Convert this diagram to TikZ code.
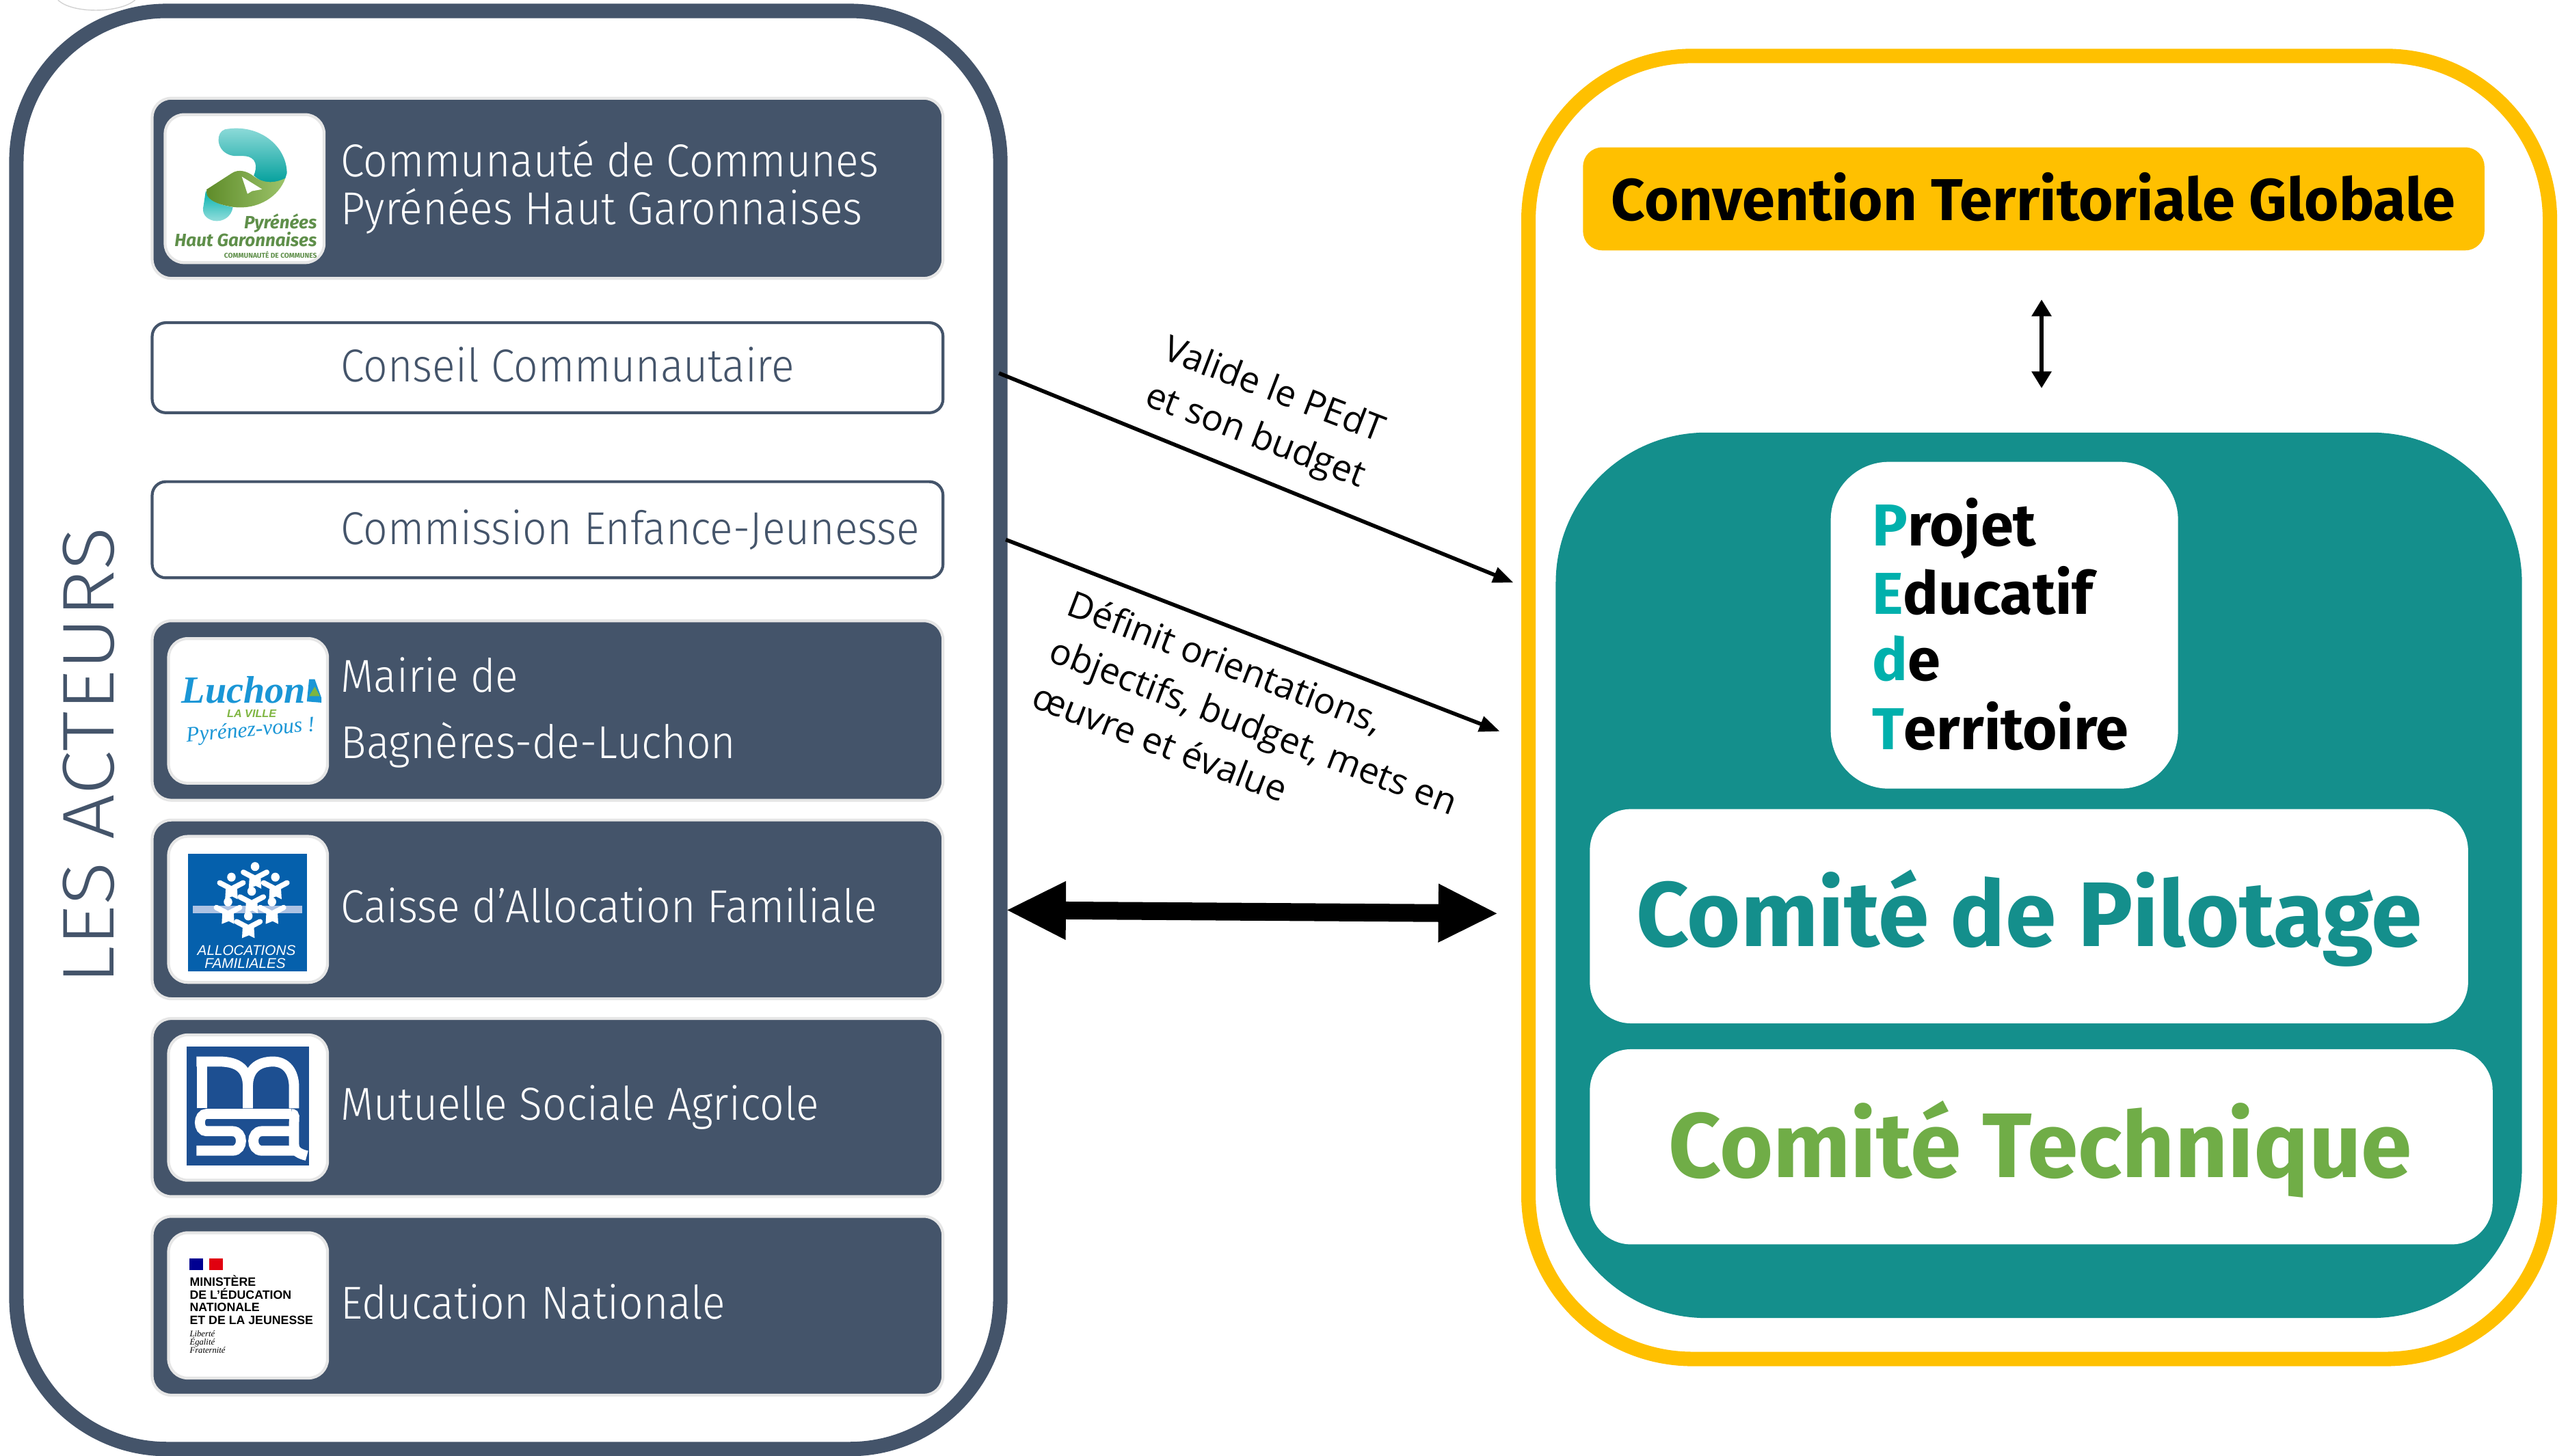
\documentclass[tikz,border=0pt]{standalone}
\usepackage{fontspec}
\usetikzlibrary{arrows.meta,shapes.geometric}
\setmainfont{Fira Sans}
\newfontfamily\uif{Fira Sans Light}[FakeStretch=0.925]
\newfontfamily\uifw{Fira Sans Light}[FakeStretch=1.1]
\newfontfamily\opf{Open Sans}
\newfontfamily\lib{Liberation Sans}
\newfontfamily\ser{Liberation Serif}
\definecolor{slate}{HTML}{44546A}
\definecolor{gold}{HTML}{FFC000}
\definecolor{teal1}{HTML}{148F8C}
\definecolor{teal2}{HTML}{00B0AC}
\definecolor{lgreen}{HTML}{70AD47}
\definecolor{lgray}{HTML}{E6E6E6}
\definecolor{logogreen}{HTML}{5F8F4A}
\definecolor{dgreen}{HTML}{5F8C2A}
\definecolor{pgreen}{HTML}{9CC36A}
\definecolor{luchblue}{HTML}{1A96D6}
\definecolor{cafblue}{HTML}{0560AC}
\definecolor{cafband}{HTML}{ADC2E3}
\definecolor{msablue}{HTML}{1D4F91}
\definecolor{frblue}{HTML}{000091}
\definecolor{frred}{HTML}{E1000F}
\newcommand\fs[1]{\fontsize{#1}{#1}\selectfont}
\newcommand\pxbox[6]{\pgfmathsetmacro\cxa{(#3+#5)/2}\pgfmathsetmacro\cya{(#4+#6)/2}\pgfmathsetmacro\wa{(#5-#3)*0.00998}\pgfmathsetmacro\ha{(#6-#4)*0.00998}\node[#2,minimum width=\wa cm,minimum height=\ha cm] (#1) at (\cxa,\cya) {};}
\newcommand\cafp[2]{\begin{scope}[shift={(#1,#2)}]
\fill[white] (0,-32) circle (19);
\draw[white,line width=2.2pt,line cap=round] (-52,-8)--(0,18)--(52,-8);
\fill[white] (-25,12)--(25,12)--(28,62)--(3,50)--(-28,62)--cycle;
\end{scope}}
\tikzset{
 darkbox/.style={rectangle,rounded corners=0.28cm,fill=slate,draw=lgray,line width=1.2pt,inner sep=0},
 linebox/.style={rectangle,rounded corners=0.2cm,fill=white,draw=slate,line width=1.2pt,inner sep=0},
 logobox/.style={rectangle,rounded corners=0.28cm,fill=white,draw=lgray,line width=1.2pt,inner sep=0},
 wbox/.style={rectangle,fill=white,inner sep=0},
 uitext/.style={anchor=west,inner sep=0,font=\uif\fs{19.2},text=white},
 uitextd/.style={anchor=west,inner sep=0,font=\uif\fs{19.2},text=slate},
 arlabel/.style={inner sep=0,font=\opf\fontsize{15}{20.5}\selectfont,align=left,text=black},
 thinarrow/.style={-{Triangle[length=8.5pt,width=6.5pt]},line width=1.6pt,black},
 bigarrow/.style={{Triangle[length=25pt,width=22.5pt]}-{Triangle[length=25pt,width=22.5pt]},line width=7.4pt,black},
 smallarrow/.style={{Triangle[length=7pt,width=8pt]}-{Triangle[length=7pt,width=8pt]},line width=1.7pt,black},
 logot/.style={inner sep=0,anchor=east},
 ent/.style={inner sep=0,anchor=west,font=\lib\bfseries\fs{5.05},text=black},
 enl/.style={inner sep=0,anchor=west,font=\ser\itshape\fs{3.6},text=black},
 pedttext/.style={inner sep=0,anchor=west,font=\bfseries\fs{24.6},text=black},
}
\begin{document}
\begin{tikzpicture}[x=0.00998cm,y=-0.00998cm]
\useasboundingbox (0,0) rectangle (3763.5,2133.3);
% faint arc at the top edge
\draw[lgray!80!gray,line width=0.4pt] (85,0) .. controls (105,20) and (175,20) .. (198,0);
% containers
\pxbox{leftouter}{rectangle,rounded corners=2.2cm,draw=slate,line width=6pt,fill=white}{24}{16}{1466}{2124}
\pxbox{rightouter}{rectangle,rounded corners=2.4cm,draw=gold,line width=6pt,fill=white}{2240}{82}{3737}{1992}
% left rows
\pxbox{cc}{darkbox}{223}{144}{1382}{408}
\pxbox{conseil}{linebox}{223}{473}{1382}{605}
\pxbox{commission}{linebox}{223}{706}{1382}{847}
\pxbox{mairie}{darkbox}{223}{910}{1382}{1173}
\pxbox{caf}{darkbox}{223}{1202}{1382}{1464}
\pxbox{msa}{darkbox}{223}{1493}{1382}{1754}
\pxbox{en}{darkbox}{223}{1783}{1382}{2045}
\pxbox{lcc}{logobox}{242}{168}{475}{385}
\pxbox{lmairie}{logobox}{247}{936}{480}{1148}
\pxbox{lcaf}{logobox}{247}{1226}{480}{1440}
\pxbox{lmsa}{logobox}{247}{1517}{480}{1730}
\pxbox{len}{logobox}{247}{1807}{480}{2020}
\node[uitext] (t1) at (499,233) {Communauté de Communes};
\node[uitext] (t2) at (499,310) {Pyrénées Haut Garonnaises};
\node[uitextd] (t3) at (499,535) {Conseil Communautaire};
\node[uitextd] (t4) at (499,777) {Commission Enfance-Jeunesse};
\node[uitext] (t5) at (499,989) {Mairie de};
\node[uitext] (t6) at (499,1092) {Bagnères-de-Luchon};
\node[uitext] (t7) at (499,1327) {Caisse d’Allocation Familiale};
\node[uitext] (t8) at (499,1623) {Mutuelle Sociale Agricole};
\node[uitext] (t9) at (499,1908) {Education Nationale};
\node[rotate=90,inner sep=0,font=\uifw\fs{30.5},text=slate] (acteurs) at (130,1108) {LES ACTEURS};
% logo CC
\begin{scope}[shift={(201,130)},xscale=.33,yscale=.335]
\shade[top color=teal2!40!white,bottom color=teal2!90!black] (390,178) .. controls (540,150) and (665,250) .. (665,370) -- (658,392) .. controls (620,420) and (560,420) .. (518,380) .. controls (535,340) and (530,300) .. (480,295) .. controls (450,292) and (430,300) .. (400,285) .. controls (350,260) and (350,190) .. (390,178) -- cycle;
\shade[top color=teal2,bottom color=teal2!40!white] (305,445) .. controls (312,490) and (370,510) .. (425,518) .. controls (420,560) and (380,585) .. (340,578) .. controls (305,570) and (285,545) .. (295,510) -- cycle;
\shade[left color=dgreen,right color=pgreen] (310,440) -- (420,370) .. controls (450,350) and (490,360) .. (520,385) .. controls (570,420) and (620,410) .. (658,392) .. controls (630,470) and (540,530) .. (430,518) .. controls (370,510) and (310,490) .. (308,455) -- cycle;
\fill[white] (465,385) -- (555,440) -- (510,448) -- (490,460) -- cycle;
\node[logot,font=\bfseries\itshape\fs{7.4},text=logogreen] (lcc1) at (800,590) {Pyrénées};
\node[logot,font=\bfseries\itshape\fs{7.4},text=logogreen] (lcc2) at (800,660) {Haut Garonnaises};
\node[logot,font=\bfseries\fs{2.9},text=logogreen] (lcc3) at (800,728) {COMMUNAUTÉ DE COMMUNES};
\end{scope}
% logo Luchon
\begin{scope}[shift={(222,913)},xscale=.33,yscale=.344]
\node[inner sep=0,font=\ser\bfseries\itshape\fs{16},text=luchblue] (lu1) at (410,285) {Luchon};
\fill[luchblue] (690,335)--(700,240)--(725,240)--(755,320)--(755,340)--cycle;
\fill[lgreen!90!yellow] (700,312)--(725,272)--(748,312)--cycle;
\node[inner sep=0,font=\lib\bfseries\itshape\fs{4.6},text=lgreen!90!yellow] (lu2) at (445,388) {LA VILLE};
\node[inner sep=0,rotate=5,font=\ser\itshape\fs{9},text=luchblue] (lu3) at (440,462) {Pyrénez-vous !};
\end{scope}
% logo CAF
\begin{scope}[shift={(222,919)},xscale=.33,yscale=.345]
\fill[cafblue] (162,965) rectangle (690,1462);
\fill[cafband] (182,1183) rectangle (670,1217);
\cafp{460}{1050}\cafp{355}{1095}\cafp{550}{1095}\cafp{445}{1155}\cafp{340}{1200}\cafp{535}{1200}\cafp{430}{1260}
\node[inner sep=0,font=\lib\itshape\fs{5.9},text=white] (cf1) at (422,1373) {ALLOCATIONS};
\node[inner sep=0,font=\lib\itshape\fs{5.9},text=white] (cf2) at (416,1428) {FAMILIALES};
\end{scope}
% logo MSA
\begin{scope}[shift={(222,1505)},xscale=.33,yscale=.352]
\fill[msablue] (155,82) rectangle (700,578);
\begin{scope}[white,line width=4.2pt]
\draw (225,340)--(225,125);
\draw (200,145)--(300,145) .. controls (390,145) and (428,180) .. (428,250) -- (428,340);
\draw (428,250) .. controls (428,180) and (470,145) .. (540,145) .. controls (600,145) and (633,190) .. (633,250) -- (633,340);
\draw (620,363)--(245,363) .. controls (205,363) and (205,435) .. (245,435) -- (360,435) .. controls (410,435) and (410,516) .. (360,516) -- (200,516);
\draw (620,363) .. controls (640,363) and (633,380) .. (633,400) -- (633,490) .. controls (633,520) and (660,530) .. (690,537);
\draw (633,435)--(490,435) .. controls (440,435) and (440,516) .. (490,516) -- (640,516);
\end{scope}
\end{scope}
% logo EN
\begin{scope}[shift={(222,1512)},xscale=.33,yscale=.349]
\fill[frblue] (168,952) rectangle (230,1002);
\fill[frred] (255,952) rectangle (318,1002);
\node[ent] (en1) at (168,1048) {MINISTÈRE};
\node[ent] (en2) at (168,1102) {DE L’ÉDUCATION};
\node[ent] (en3) at (168,1157) {NATIONALE};
\node[ent] (en4) at (168,1213) {ET DE LA JEUNESSE};
\node[enl] (en5) at (168,1270) {Liberté};
\node[enl] (en6) at (168,1305) {Égalité};
\node[enl] (en7) at (168,1338) {Fraternité};
\end{scope}
% right side
\pxbox{ctg}{wbox,rounded corners=0.28cm,fill=gold}{2320}{216}{3641}{367}
\node[inner sep=0,font=\bfseries\fs{24.6},text=black] (ctgt) at (2980,289) {Convention Territoriale Globale};
\pxbox{pedtbg}{wbox,rounded corners=2.2cm,fill=teal1}{2280}{634}{3696}{1932}
\pxbox{pedt}{wbox,rounded corners=0.85cm}{2683}{677}{3192}{1156}
\node[pedttext] (p1) at (2743,775) {\textcolor{teal2}{P}rojet};
\node[pedttext] (p2) at (2743,866) {\textcolor{teal2}{E}ducatif};
\node[pedttext] (p3) at (2743,965) {\textcolor{teal2}{d}e};
\node[pedttext] (p4) at (2743,1064) {\textcolor{teal2}{T}erritoire};
\pxbox{copil}{wbox,rounded corners=0.6cm}{2330}{1186}{3617}{1500}
\pxbox{cotech}{wbox,rounded corners=0.6cm}{2330}{1538}{3653}{1824}
\node[inner sep=0,font=\bfseries\fs{38.2},text=teal1] (copilt) at (2974,1346) {Comité de Pilotage};
\node[inner sep=0,font=\bfseries\fs{38.2},text=lgreen] (cotecht) at (2990,1685) {Comité Technique};
% connectors
\coordinate (a1s) at (1464,547); \coordinate (a1e) at (2218,854);
\coordinate (a2s) at (1474,791); \coordinate (a2e) at (2198,1072);
\coordinate (a3s) at (1474,1334); \coordinate (a3e) at (2196,1339);
\coordinate (a4s) at (2992,439); \coordinate (a4e) at (2992,569);
\draw[thinarrow] (a1s) -- (a1e);
\draw[thinarrow] (a2s) -- (a2e);
\draw[bigarrow] (a3s) -- (a3e);
\draw[smallarrow] (a4s) -- (a4e);
\node[arlabel,rotate=-21] (l1) at (1853,608) {Valide le PEdT\\et son budget};
\node[arlabel,rotate=-21] (l2) at (1838,1063) {Définit orientations,\\objectifs, budget, mets en\\œuvre et évalue};
\end{tikzpicture}
\end{document}
